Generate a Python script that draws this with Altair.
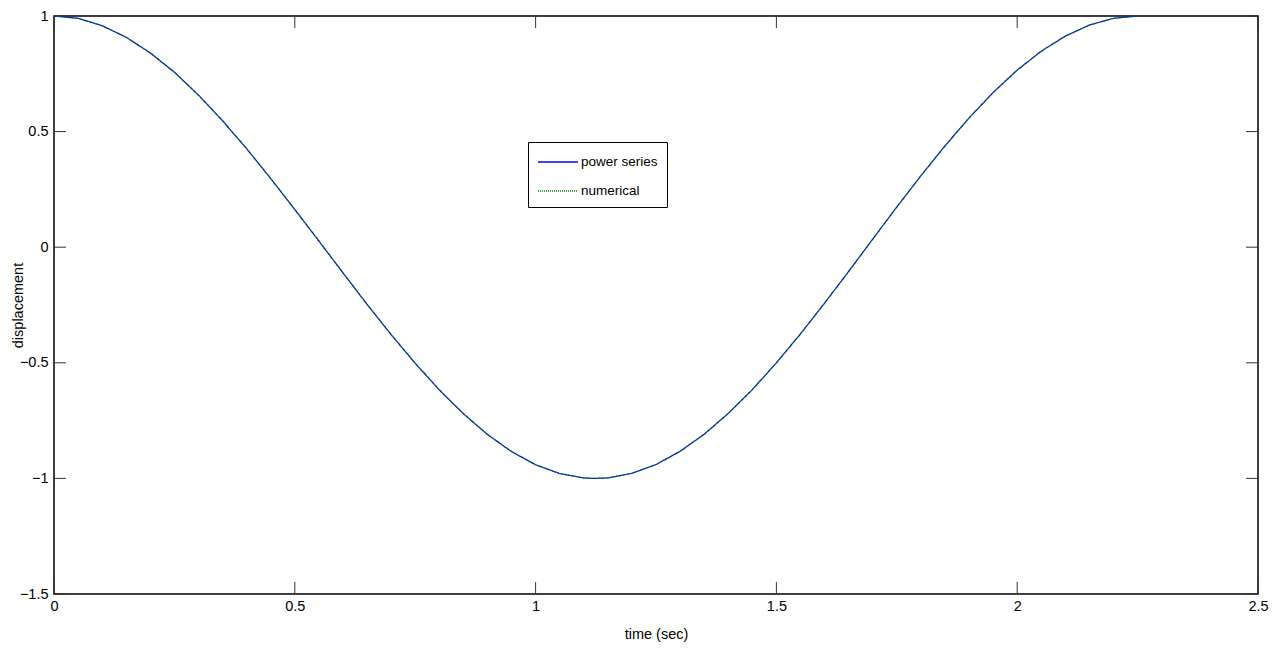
import altair as alt
import pandas as pd

time_sec = [0.00, 0.05, 0.10, 0.15, 0.20, 0.25, 0.30, 0.35, 0.40, 0.45,
            0.50, 0.55, 0.60, 0.65, 0.70, 0.75, 0.80, 0.85, 0.90, 0.95,
            1.00, 1.05, 1.10, 1.12, 1.15, 1.20, 1.25, 1.30, 1.35, 1.40,
            1.45, 1.50, 1.55, 1.60, 1.65, 1.70, 1.75, 1.80, 1.85, 1.90,
            1.95, 2.00, 2.05, 2.10, 2.15, 2.20, 2.25]
power_series = [1.000, 0.990, 0.958, 0.908, 0.840, 0.757, 0.658, 0.547, 0.426, 0.297,
                0.163, 0.027, -0.111, -0.247, -0.378, -0.502, -0.617, -0.720, -0.810, -0.884,
                -0.941, -0.979, -0.998, -1.000, -0.998, -0.978, -0.940, -0.883, -0.809, -0.719,
                -0.616, -0.500, -0.375, -0.242, -0.105, 0.035, 0.174, 0.309, 0.438, 0.559,
                0.669, 0.766, 0.848, 0.913, 0.961, 0.990, 1.000]
numerical = [1.000, 0.990, 0.958, 0.908, 0.840, 0.757, 0.658, 0.547, 0.426, 0.297,
             0.163, 0.027, -0.111, -0.247, -0.378, -0.502, -0.617, -0.720, -0.810, -0.884,
             -0.941, -0.979, -0.998, -1.000, -0.998, -0.978, -0.940, -0.883, -0.809, -0.719,
             -0.616, -0.500, -0.375, -0.242, -0.105, 0.035, 0.174, 0.309, 0.438, 0.559,
             0.669, 0.766, 0.848, 0.913, 0.961, 0.990, 1.000]
series_names = ["power series", "numerical"]
series_colors = ["#0000ff", "#007f00"]
x_ticks = [0, 0.5, 1, 1.5, 2, 2.5]
y_ticks = [-1.5, -1, -0.5, 0, 0.5, 1]

rows = []
for t, v in zip(time_sec, power_series):
    rows.append({"t": t, "v": v, "series": "power series"})
for t, v in zip(time_sec, numerical):
    rows.append({"t": t, "v": v, "series": "numerical"})
df = pd.DataFrame(rows)

W, H = 1204, 578
FONT = "Liberation Sans"
TICK = 12

xs = alt.Scale(domain=[0, 2.5], nice=False, zero=False)
ys = alt.Scale(domain=[-1.5, 1], nice=False, zero=False)

x_enc = alt.X("t:Q", scale=xs, axis=alt.Axis(values=x_ticks, format="~g", ticks=False, domain=False,
                                             grid=False, labelFont=FONT, labelFontSize=14.5,
                                             labelColor="black", labelPadding=5, labelFlush=False,
                                             title="time (sec)", titleFont=FONT, titleFontSize=14.5,
                                             titleFontWeight="normal", titleColor="black",
                                             titleY=40, titleBaseline="middle"))
y_enc = alt.Y("v:Q", scale=ys, axis=alt.Axis(values=y_ticks, format="~g", ticks=False, domain=False,
                                             grid=False, labelFont=FONT, labelFontSize=14.5,
                                             labelColor="black", labelPadding=6, labelFlush=False,
                                             title="displacement", titleFont=FONT, titleFontSize=14.5,
                                             titleFontWeight="normal", titleColor="black",
                                             titleAngle=270, titleAlign="center",
                                             titleBaseline="middle", titleX=-36, titleY=H / 2))
color_enc = alt.Color("series:N", scale=alt.Scale(domain=series_names, range=series_colors),
                      legend=alt.Legend(title=None, orient="none", legendX=474, legendY=126,
                                        fillColor="white", strokeColor="black", padding=9,
                                        symbolType="M-1,0H3", symbolSize=400, symbolStrokeWidth=1.5,
                                        labelFont=FONT, labelFontSize=13.5, labelColor="black",
                                        labelOffset=22, rowPadding=11))
dash_enc = alt.StrokeDash("series:N", scale=alt.Scale(domain=series_names, range=[[1, 0], [1, 1]]),
                          legend=None)

base = alt.Chart(df).mark_line(strokeWidth=1.2, clip=True).encode(
    x=x_enc, y=y_enc, color=color_enc, strokeDash=dash_enc)
blue_line = base.transform_filter(alt.datum.series == "power series")
green_line = base.transform_filter(alt.datum.series == "numerical")

xt = pd.DataFrame({"x": x_ticks})
yt = pd.DataFrame({"y": y_ticks})
tick_color = "#333333"
bottom_ticks = alt.Chart(xt).mark_rule(color=tick_color, strokeWidth=1).encode(
    x=alt.X("x:Q", scale=xs), y=alt.value(H), y2=alt.value(H - TICK))
top_ticks = alt.Chart(xt).mark_rule(color=tick_color, strokeWidth=1).encode(
    x=alt.X("x:Q", scale=xs), y=alt.value(0), y2=alt.value(TICK))
left_ticks = alt.Chart(yt).mark_rule(color=tick_color, strokeWidth=1).encode(
    y=alt.Y("y:Q", scale=ys), x=alt.value(0), x2=alt.value(TICK))
right_ticks = alt.Chart(yt).mark_rule(color=tick_color, strokeWidth=1).encode(
    y=alt.Y("y:Q", scale=ys), x=alt.value(W), x2=alt.value(W - TICK))

chart = alt.layer(bottom_ticks, top_ticks, left_ticks, right_ticks, blue_line, green_line).properties(
    width=W, height=H,
    autosize=alt.AutoSizeParams(type="none"),
    padding={"left": 46, "top": 8, "right": 12, "bottom": 50},
    background="white",
).configure_view(stroke="black", strokeWidth=1.5)

chart.save("out.html", embed_options={"renderer": "svg", "actions": False})
